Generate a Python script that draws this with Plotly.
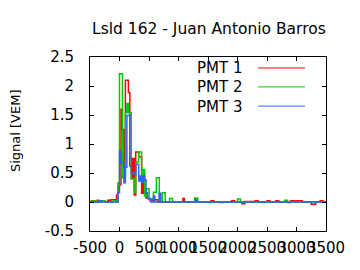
import plotly.graph_objects as go

# Step data: (bin start time [ns], signal [VEM]) change points, last value held to 3500
pmt1_t = [-500, -475, -425, -375, -350, -300, -250, -200, -175, -150, -75, -50, -25, 0, 25, 50, 75, 100, 150, 175, 200, 225, 250, 275, 325, 375, 400, 425, 450, 500, 550, 600, 650,
          1075, 1100, 1275, 1300, 1550, 1600, 1700, 1750, 1900, 1950, 2075, 2125, 2300, 2350, 2500, 2550, 2650, 2700, 2850, 2900, 3050, 3100, 3250, 3325, 3400, 3450, 3500]
pmt1_v = [0.0, 0.02, 0.0, 0.03, 0.0, 0.02, 0.0, 0.03, 0.0, 0.04, 0.03, 0.12, 0.28, 0.30, 1.60, 1.25, 0.60, 2.10, 1.89, 0.62, 0.40, 0.75, 0.12, 0.86, 0.78, 0.15, 0.50, 0.12, 0.07, 0.04, 0.02, 0.04, 0.0,
          0.06, 0.0, 0.05, 0.0, 0.02, 0.0, -0.01, 0.0, 0.02, 0.0, -0.03, 0.01, 0.02, 0.0, 0.02, 0.0, 0.02, 0.0, -0.01, 0.02, 0.02, 0.0, -0.04, 0.0, 0.02, 0.0, 0.0]

pmt2_t = [-500, -450, -400, -300, -250, -100, -50, -25, 0, 50, 100, 125, 150, 200, 250, 275, 325, 375, 400, 425, 450, 500, 575, 625, 675, 725, 775, 850, 900, 1275, 1325,
          1500, 1550, 2000, 2050, 2400, 2450, 2800, 2850, 3500]
pmt2_v = [0.0, 0.02, 0.0, 0.02, 0.0, 0.02, 0.0, 0.33, 2.21, 0.42, 1.54, 1.70, 1.54, 0.40, 0.16, 0.69, 0.86, 0.45, 0.56, 0.10, 0.23, 0.05, 0.17, 0.42, 0.0, 0.16, 0.0, 0.06, 0.0, 0.07, 0.0,
          -0.01, 0.0, 0.05, 0.0, -0.01, 0.0, 0.03, 0.0, 0.0]

pmt3_t = [-500, -350, -300, -25, 0, 25, 75, 100, 125, 175, 200, 250, 275, 325, 350, 375, 400, 425, 450, 475, 525, 575, 600, 675, 700, 1300, 1325, 3500]
pmt3_v = [0.0, 0.02, 0.0, 0.16, 0.88, 0.67, 0.33, 0.60, 1.49, 0.76, 0.50, 0.47, 0.65, 0.36, 0.45, 0.33, 0.45, 0.38, 0.16, 0.06, 0.0, 0.10, 0.0, 0.15, 0.0, 0.03, 0.0, 0.0]

names = ["PMT 1", "PMT 2", "PMT 3"]
colors = ["#ff0000", "#00c800", "#3060ff"]
x_ticks = [-500, 0, 500, 1000, 1500, 2000, 2500, 3000, 3500]
y_ticks = [-0.5, 0, 0.5, 1, 1.5, 2, 2.5]

FONT = "DejaVu Sans"
fig = go.Figure()
for t, v, n, c in zip([pmt1_t, pmt2_t, pmt3_t], [pmt1_v, pmt2_v, pmt3_v], names, colors):
    fig.add_trace(go.Scatter(x=t, y=v, mode="lines", line=dict(shape="hv", color=c, width=1.5),
                             name=n, showlegend=False))

axis_common = dict(showline=True, linecolor="black", linewidth=1, mirror="ticks", ticks="inside",
                   ticklen=4, tickcolor="black", showgrid=False, zeroline=False, automargin=False,
                   tickfont=dict(family=FONT, size=15, color="black"))
fig.update_xaxes(range=[-500, 3500], tickvals=x_ticks, ticktext=[str(v) for v in x_ticks],
                 tickangle=0, ticklabelstandoff=3, **axis_common)
fig.update_yaxes(range=[-0.5, 2.5], tickvals=y_ticks, ticktext=[f"{v:g}" for v in y_ticks],
                 ticklabelstandoff=12, **axis_common)

annotations = [
    dict(text="Lsld 162 - Juan Antonio Barros", xref="paper", yref="paper", x=0.504, y=1.161,
         xanchor="center", yanchor="middle", showarrow=False, font=dict(family=FONT, size=15.5, color="black")),
    dict(text="Signal [VEM]", xref="paper", yref="paper", x=-0.318, y=0.58, textangle=-90,
         xanchor="center", yanchor="middle", showarrow=False, font=dict(family=FONT, size=13, color="black")),
]
shapes = []
rows = [0.937, 0.828, 0.718]
for n, c, yr in zip(names, colors, rows):
    annotations.append(dict(text=n, xref="paper", yref="paper", x=0.648, y=yr, xanchor="right",
                            yanchor="middle", showarrow=False, height=17, borderpad=0,
                            font=dict(family=FONT, size=15, color="black")))
    shapes.append(dict(type="line", xref="paper", yref="paper", x0=0.712, x1=0.911, y0=yr, y1=yr,
                       line=dict(color=c, width=1)))

fig.update_layout(width=360, height=270, margin=dict(l=90, r=34, t=57, b=39),
                  paper_bgcolor="white", plot_bgcolor="white", annotations=annotations, shapes=shapes,
                  font=dict(family=FONT, size=15, color="black"))
fig.write_html("out.html")
